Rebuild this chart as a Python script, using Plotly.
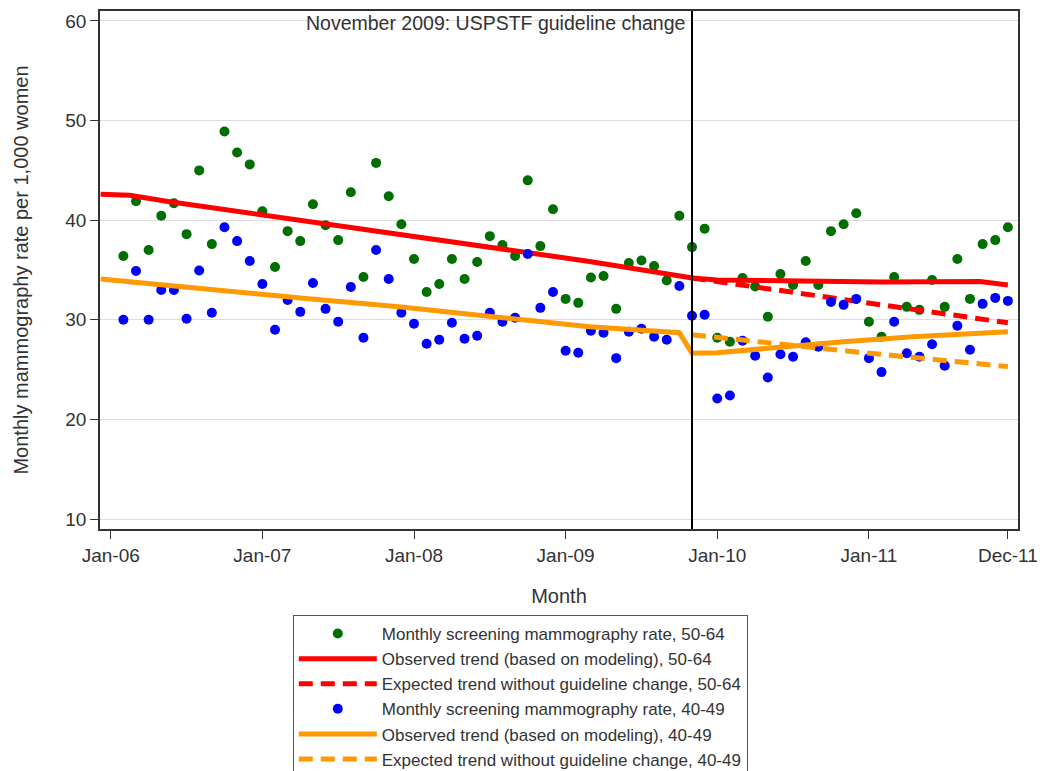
import plotly.graph_objects as go

# ---- data (month index: 0 = Jan-06) ----
months = list(range(1, 72))

rate_5064 = [36.4, 41.9, 37.0, 40.45, 41.7, 38.6, 45.0, 37.6, 48.9, 46.8, 45.6,
             40.9, 35.3, 38.9, 37.9, 41.6, 39.5, 38.0, 42.8, 34.3, 45.75, 42.4, 39.6,
             36.1, 32.8, 33.6, 36.1, 34.1, 35.8, 38.4, 37.5, 36.4, 44.0, 37.4, 41.1,
             32.1, 31.7, 34.25, 34.4, 31.1, 35.7, 35.96, 35.4, 33.95, 40.45, 37.3, 39.15,
             28.2, 27.8, 34.2, 33.35, 30.3, 34.6, 33.5, 35.9, 33.5, 38.9, 39.6, 40.7,
             29.8, 28.3, 34.3, 31.3, 31.0, 34.0, 31.3, 36.1, 32.1, 37.6, 38.0, 39.3]

rate_4049 = [30.0, 34.9, 30.0, 33.0, 33.0, 30.1, 34.95, 30.7, 39.3, 37.9, 35.9,
             33.6, 29.0, 32.0, 30.8, 33.7, 31.1, 29.8, 33.3, 28.2, 37.0, 34.1, 30.7,
             29.6, 27.6, 28.0, 29.7, 28.1, 28.4, 30.7, 29.8, 30.2, 36.6, 31.2, 32.8,
             26.9, 26.7, 28.9, 28.7, 26.15, 28.8, 29.1, 28.3, 28.0, 33.4, 30.4, 30.5,
             22.1, 22.4, 27.9, 26.4, 24.2, 26.55, 26.3, 27.75, 27.3, 31.8, 31.5, 32.1,
             26.15, 24.75, 29.8, 26.65, 26.3, 27.55, 25.4, 29.4, 27.0, 31.6, 32.2, 31.9]

obs_5064_x = [-0.8, 1.5, 4.4, 9.7, 12.3, 17.6, 20.3, 22.8, 30, 37.9, 45.3, 46, 48, 61, 68.8, 71]
obs_5064_y = [42.6, 42.5, 41.9, 40.95, 40.4, 39.45, 39.0, 38.55, 37.3, 35.86, 34.35, 34.2, 34.0, 33.8, 33.85, 33.5]

exp_5064_x = [46, 58, 71]
exp_5064_y = [34.2, 32.0, 29.7]

obs_4049_x = [-0.8, 7, 15, 22.8, 30, 37.9, 45, 46, 48, 53, 58, 63.5, 71]
obs_4049_y = [34.1, 33.1, 32.2, 31.3, 30.3, 29.3, 28.7, 26.65, 26.7, 27.3, 27.8, 28.3, 28.8]

exp_4049_x = [46, 58, 71]
exp_4049_y = [28.5, 26.9, 25.3]

tick_vals = [0, 12, 24, 36, 48, 60, 71]
tick_text = ["Jan-06", "Jan-07", "Jan-08", "Jan-09", "Jan-10", "Jan-11", "Dec-11"]

change_month = 46
change_label = "November 2009: USPSTF guideline change"

names = ["Monthly screening mammography rate, 50-64",
         "Observed trend (based on modeling), 50-64",
         "Expected trend without guideline change, 50-64",
         "Monthly screening mammography rate, 40-49",
         "Observed trend (based on modeling), 40-49",
         "Expected trend without guideline change, 40-49"]

GREEN = "#006e00"
BLUE = "#0000ff"
RED = "#ff0000"
ORANGE = "#ff9900"
FONT = "Liberation Sans, Arial, sans-serif"
TXT = "#333333"

fig = go.Figure()
fig.add_trace(go.Scatter(x=months, y=rate_5064, mode="markers", name=names[0],
                         marker=dict(color=GREEN, size=10)))
fig.add_trace(go.Scatter(x=obs_5064_x, y=obs_5064_y, mode="lines", name=names[1],
                         line=dict(color=RED, width=5)))
fig.add_trace(go.Scatter(x=exp_5064_x, y=exp_5064_y, mode="lines", name=names[2],
                         line=dict(color=RED, width=5, dash="14px,8px")))
fig.add_trace(go.Scatter(x=months, y=rate_4049, mode="markers", name=names[3],
                         marker=dict(color=BLUE, size=10)))
fig.add_trace(go.Scatter(x=obs_4049_x, y=obs_4049_y, mode="lines", name=names[4],
                         line=dict(color=ORANGE, width=5)))
fig.add_trace(go.Scatter(x=exp_4049_x, y=exp_4049_y, mode="lines", name=names[5],
                         line=dict(color=ORANGE, width=5, dash="14px,8px")))

fig.add_shape(type="line", x0=change_month, x1=change_month, xref="x",
              y0=0, y1=1, yref="paper", line=dict(color="black", width=2))
fig.add_annotation(x=change_month, xref="x", y=1, yref="paper", text=change_label,
                   showarrow=False, xanchor="right", yanchor="top", xshift=-5, yshift=1,
                   font=dict(family=FONT, size=19.5, color=TXT))

fig.update_layout(
    width=1040, height=771,
    margin=dict(l=100, r=22, t=11, b=242, autoexpand=False),
    paper_bgcolor="white", plot_bgcolor="white",
    font=dict(family=FONT, size=19, color=TXT),
    showlegend=True,
    legend=dict(x=0.21, xanchor="left", y=-0.166, yanchor="top",
                bgcolor="white", bordercolor="#555555", borderwidth=1,
                font=dict(family=FONT, size=17, color=TXT),
                itemwidth=78, tracegroupgap=0),
    xaxis=dict(range=[-0.85, 71.8], tickmode="array", tickvals=tick_vals, ticktext=tick_text,
               showgrid=False, zeroline=False, showline=True, mirror=True, automargin=False,
               linecolor="#333333", linewidth=1.5, ticks="outside", ticklen=8,
               tickcolor="#333333", tickfont=dict(size=19),
               title=dict(text="Month", font=dict(size=20), standoff=24)),
    yaxis=dict(range=[9, 61], tickvals=[10, 20, 30, 40, 50, 60],
               showgrid=True, gridcolor="#dddddd", gridwidth=1, zeroline=False, automargin=False,
               showline=True, mirror=True, linecolor="#333333", linewidth=1.5,
               ticks="outside", ticklen=8, tickcolor="#333333", tickfont=dict(size=19),
               title=dict(text="Monthly mammography rate per 1,000 women",
                          font=dict(size=20), standoff=31)),
)

fig.write_html("out.html", config={"displayModeBar": False},
               post_script="document.body.style.margin='0';document.body.style.overflow='hidden';")
